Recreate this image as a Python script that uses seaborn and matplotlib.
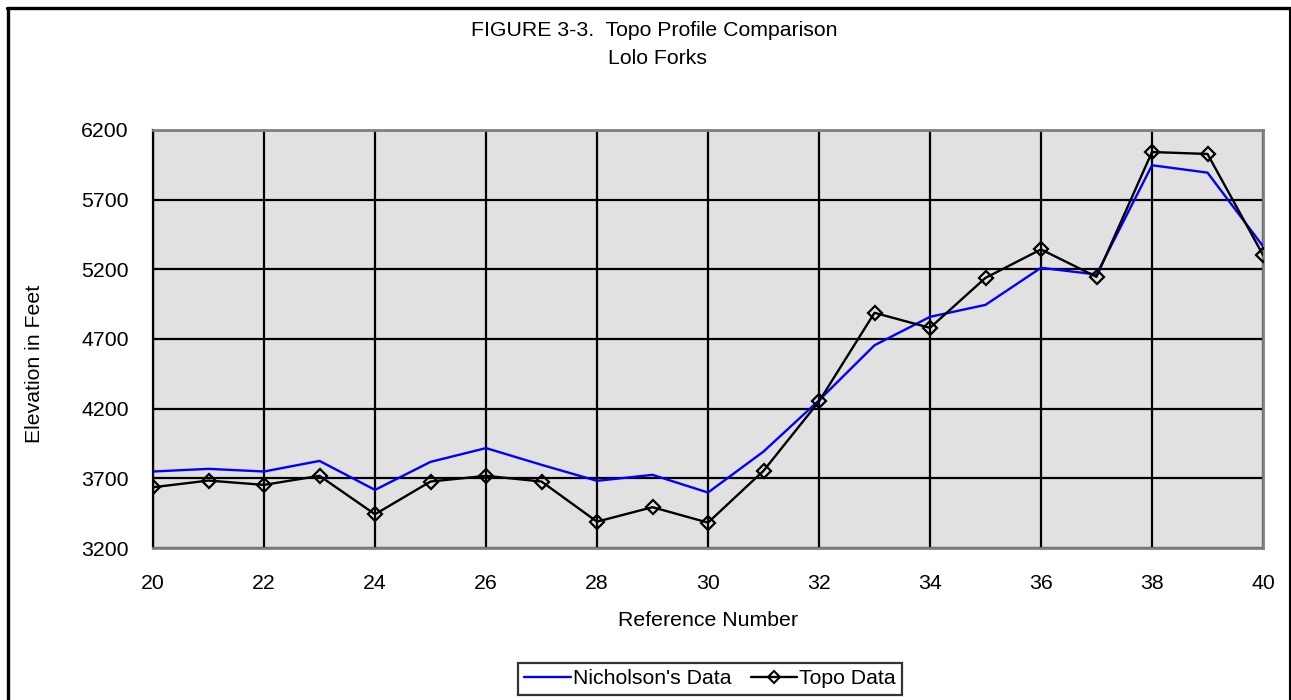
import matplotlib
matplotlib.use("Agg")
import matplotlib.pyplot as plt
import seaborn as sns
import pandas as pd
from matplotlib.lines import Line2D

ref_numbers = [20, 21, 22, 23, 24, 25, 26, 27, 28, 29, 30,
               31, 32, 33, 34, 35, 36, 37, 38, 39, 40]
nicholson = [3749, 3768, 3749, 3825, 3617, 3818, 3917, 3797, 3682, 3725, 3598,
             3892, 4260, 4655, 4859, 4945, 5211, 5163, 5947, 5894, 5366]
topo = [3636, 3684, 3653, 3718, 3442, 3677, 3718, 3677, 3389, 3493, 3382,
        3754, 4252, 4888, 4780, 5139, 5343, 5146, 6042, 6028, 5303]
x_ticks = [20, 22, 24, 26, 28, 30, 32, 34, 36, 38, 40]
y_ticks = [3200, 3700, 4200, 4700, 5200, 5700, 6200]

title_line1 = "FIGURE 3-3.  Topo Profile Comparison"
title_line2 = "Lolo Forks"
x_label = "Reference Number"
y_label = "Elevation in Feet"
series_names = ["Nicholson's Data", "Topo Data"]

sns.set_style("white")
plt.rcParams['font.family'] = ['Liberation Sans', 'DejaVu Sans']
plt.rcParams['text.color'] = 'black'
plt.rcParams['axes.labelcolor'] = 'black'
plt.rcParams['xtick.color'] = 'black'
plt.rcParams['ytick.color'] = 'black'

FS = 15.3
W, H = 1291, 700
fig = plt.figure(figsize=(W / 100, H / 100), dpi=100)
ax = fig.add_axes([153 / W, 1 - 548 / H, (1263 - 153) / W, (548 - 130) / H])
ax.set_facecolor("#e1e1e1")

df = pd.DataFrame({"ref": ref_numbers, "nich": nicholson, "topo": topo})
sns.lineplot(data=df, x="ref", y="nich", ax=ax, color="#0000ff", lw=1.7,
             zorder=4, label=series_names[0], legend=False)
sns.lineplot(data=df, x="ref", y="topo", ax=ax, color="black", lw=1.7,
             marker="D", markersize=7, markerfacecolor="none",
             markeredgecolor="black", markeredgewidth=1.6, zorder=5,
             label=series_names[1], legend=False)

ax.set_xlim(20, 40)
ax.set_ylim(3200, 6200)
ax.set_xticks(x_ticks)
ax.set_yticks(y_ticks)
ax.grid(True, color="black", lw=1.6, zorder=1)
ax.set_axisbelow(True)
for s in ["top", "right", "bottom"]:
    ax.spines[s].set_color("#808080")
    ax.spines[s].set_linewidth(2)
ax.spines["left"].set_color("black")
ax.spines["left"].set_linewidth(1.6)
ax.tick_params(axis="both", direction="out", length=4.5, width=1.6,
               color="black", labelsize=FS, labelcolor="black")
ax.tick_params(axis="x", pad=14)
ax.tick_params(axis="y", pad=13)
ax.set_xlabel(x_label, fontsize=FS, labelpad=13, color="black")
ax.set_ylabel("")
fig.text(35 / W, 1 - 364 / H, y_label, rotation=90, fontsize=FS,
         ha="center", va="center")

fig.text(654 / W, 1 - 30 / H, title_line1, fontsize=FS, ha="center", va="center")
fig.text(657 / W, 1 - 58 / H, title_line2, fontsize=FS, ha="center", va="center")

handles = [Line2D([], [], color="#0000ff", lw=1.7),
           Line2D([], [], color="black", lw=1.7, marker="D", markersize=6,
                  markerfacecolor="none", markeredgewidth=1.5)]
leg = fig.legend(handles, series_names, loc="center", bbox_to_anchor=(710 / W, 1 - 679 / H),
                 ncol=2, frameon=True, fancybox=False, fontsize=FS,
                 handlelength=2.2, handletextpad=0.1, columnspacing=0.9,
                 borderpad=0.3, borderaxespad=0)
leg.get_frame().set_edgecolor("black")
leg.get_frame().set_linewidth(1.6)

# figure border
fig.add_artist(Line2D([8 / W, 8 / W], [1 - 8 / H, -0.01], color="black", lw=2.4,
                      transform=fig.transFigure))
fig.add_artist(Line2D([7 / W, 1290 / W], [1 - 8 / H, 1 - 8 / H], color="black", lw=2.4,
                      transform=fig.transFigure))
fig.add_artist(Line2D([1290 / W, 1290 / W], [1 - 8 / H, -0.01], color="black", lw=1.5,
                      transform=fig.transFigure))

fig.savefig("out.png", dpi=100)
